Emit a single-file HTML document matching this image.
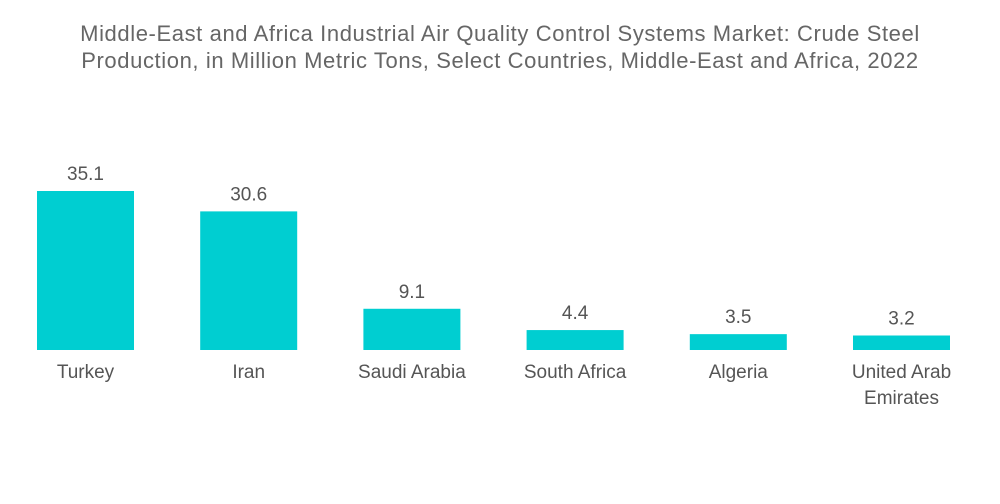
<!DOCTYPE html>
<html><head><meta charset="utf-8"><style>
html,body{margin:0;padding:0;background:#fff;}
body{width:1000px;height:504px;overflow:hidden;font-family:"Liberation Sans",sans-serif;}
#title{position:absolute;left:0;top:20px;width:1000px;text-align:center;color:#666;font-size:22px;letter-spacing:0.6px;line-height:27px;}
svg{position:absolute;left:0;top:0;}
</style></head><body>
<div id="title">Middle-East and Africa Industrial Air Quality Control Systems Market: Crude Steel<br>Production, in Million Metric Tons, Select Countries, Middle-East and Africa, 2022</div>
<svg id="chart" width="1000" height="504"></svg>
<script>
const categories=[["Turkey"],["Iran"],["Saudi Arabia"],["South Africa"],["Algeria"],["United Arab","Emirates"]];
const values=[35.1,30.6,9.1,4.4,3.5,3.2];
const valueLabels=["35.1","30.6","9.1","4.4","3.5","3.2"];
const svg=document.getElementById('chart');
const NS='http://www.w3.org/2000/svg';
const baseY=350, pxPer=159/35.1, x0=37, step=163.2, bw=97;
function xPos(i){return x0+i*step;}
function yPos(v){return baseY-v*pxPer;}
values.forEach((v,i)=>{
  const r=document.createElementNS(NS,'rect');
  
  
  r.setAttribute('x',xPos(i));r.setAttribute('y',yPos(v));
  r.setAttribute('width',bw);r.setAttribute('height',baseY-yPos(v));
  r.setAttribute('fill','#00CED1');
  svg.appendChild(r);
  const t=document.createElementNS(NS,'text');
  
  
  t.setAttribute('x',xPos(i)+bw/2);t.setAttribute('y',yPos(v)-11);
  t.setAttribute('text-anchor','middle');t.setAttribute('font-size','19');t.setAttribute('fill','#555');
  t.textContent=valueLabels[i];
  svg.appendChild(t);
  categories[i].forEach((line,j)=>{
    const c=document.createElementNS(NS,'text');
    
    
    c.setAttribute('x',xPos(i)+bw/2);c.setAttribute('y',378+j*26);
    c.setAttribute('text-anchor','middle');c.setAttribute('font-size','19');c.setAttribute('fill','#555');
    c.textContent=line;
    svg.appendChild(c);
  });
});
</script>
</body></html>
